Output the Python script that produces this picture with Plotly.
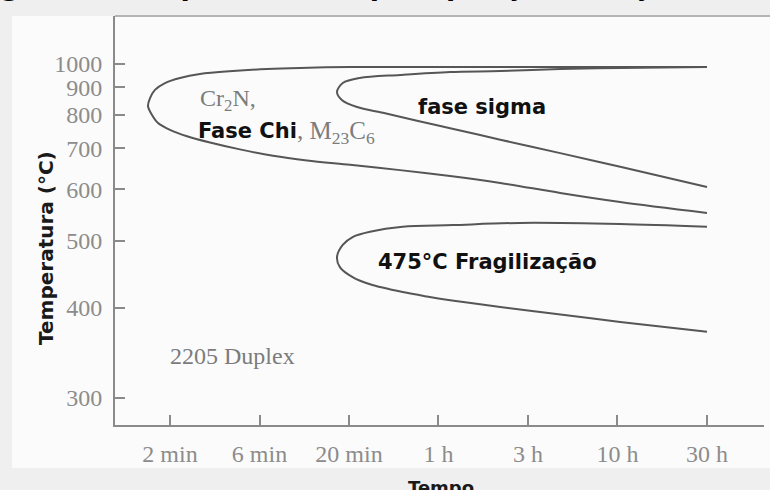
import numpy as np
import plotly.graph_objects as go

# Time axis: one unit per labelled step (roughly a factor of 3 in time)
time_labels = ["2 min", "6 min", "20 min", "1 h", "3 h", "10 h", "30 h"]
time_pos = list(range(len(time_labels)))

# Temperature ticks, °C (axis is linear in 1/T absolute)
temp_ticks = [300, 400, 500, 600, 700, 800, 900, 1000]

# Cr2N / chi / M23C6 precipitation curve (upper branch, nose, lower branch)
carb_t = [6.0, 4.25, 2.01, 1.453, 1.084, 0.704, 0.335, 0.112, -0.056, -0.168,
          -0.223, -0.246, -0.201, -0.134, 0.0, 0.19, 0.447, 0.782, 1.151,
          1.531, 2.011, 2.57, 3.13, 3.69, 4.36, 5.03, 6.0]
carb_T = [986, 986, 986, 982, 977, 968, 955, 938, 917, 890,
          859, 830, 800, 774, 753, 734, 716, 697, 680,
          668, 657, 644, 630, 614, 592, 573, 551]

# Sigma phase curve
sigma_t = [6.0, 5.03, 4.36, 3.69, 3.13, 2.57, 2.12, 1.93, 1.866, 1.92,
           2.09, 2.38, 2.76, 3.13, 3.69, 4.36, 5.03, 6.0]
sigma_T = [986, 982, 977, 968, 964, 951, 938, 917, 882, 852,
           827, 807, 781, 758, 724, 687, 652, 605]

# 475 °C embrittlement curve
embr_t = [6.0, 5.03, 3.91, 3.16, 2.60, 2.235, 2.045, 1.93, 1.866, 1.90,
          2.045, 2.235, 2.60, 2.87, 3.13, 3.69, 4.25, 5.03, 6.0]
embr_T = [525, 530, 532, 528, 525, 516, 507, 493, 473, 457,
          442, 432, 421, 415, 410, 401, 393, 382, 370]


def inv_abs(T):
    """Plotting coordinate: 10^4 / absolute temperature."""
    return 1e4 / (np.asarray(T, dtype=float) + 273.0)


line_style = dict(color="#565656", width=2, shape="spline", smoothing=0.9)

fig = go.Figure()
for tx, ty in [(carb_t, carb_T), (sigma_t, sigma_T), (embr_t, embr_T)]:
    fig.add_trace(go.Scatter(x=tx, y=inv_abs(ty), mode="lines",
                             line=line_style, hoverinfo="skip",
                             showlegend=False))

serif = "Liberation Serif, Times New Roman, serif"
sans_bold = "DejaVu Sans, Verdana, sans-serif"
gray_txt = "#7c7c7c"

tick_font = dict(family=serif, size=24, color="#8c8c8c")

fig.update_xaxes(
    range=[-0.6145, 6.637], tickmode="array", tickvals=time_pos,
    ticktext=time_labels, ticks="inside", ticklen=10, tickwidth=1.5,
    tickcolor="#8a8a8a", showline=True, linecolor="#8a8a8a", linewidth=2,
    showgrid=False, zeroline=False, tickfont=tick_font,
    ticklabelstandoff=6,
)
fig.update_yaxes(
    range=[float(inv_abs(275.6)), float(inv_abs(1271))], tickmode="array",
    tickvals=inv_abs(temp_ticks), ticktext=[str(t) for t in temp_ticks],
    ticks="inside", ticklen=10, tickwidth=1.5, tickcolor="#8a8a8a",
    showline=True, linecolor="#8a8a8a", linewidth=2, showgrid=False,
    zeroline=False, tickfont=tick_font, ticklabelstandoff=6,
)

annotations = [
    dict(x=0.313, y=float(inv_abs(852)), text="Cr<sub>2</sub>N,",
         xanchor="left", yanchor="middle",
         font=dict(family=serif, size=24, color=gray_txt)),
    dict(x=0.29, y=float(inv_abs(749)), text="<b>Fase Chi</b>",
         xanchor="left", yanchor="middle",
         font=dict(family=sans_bold, size=21, color="#111111")),
    dict(x=1.40, y=float(inv_abs(745)), text=", M<sub>23</sub>C<sub>6</sub>",
         xanchor="left", yanchor="middle",
         font=dict(family=serif, size=25, color=gray_txt)),
    dict(x=3.486, y=float(inv_abs(827)), text="<b>fase sigma</b>",
         xanchor="center", yanchor="middle",
         font=dict(family=sans_bold, size=21, color="#111111")),
    dict(x=3.553, y=float(inv_abs(465)), text="<b>475°C Fragilização</b>",
         xanchor="center", yanchor="middle",
         font=dict(family=sans_bold, size=21, color="#111111")),
    dict(x=-0.022, y=float(inv_abs(342.5)), text="2205 Duplex",
         xanchor="left", yanchor="middle",
         font=dict(family=serif, size=24, color=gray_txt)),
    # axis titles
    dict(xref="paper", yref="paper", x=-0.1063, y=0.4328,
         text="<b>Temperatura (°C)</b>", textangle=-90,
         xanchor="center", yanchor="middle",
         font=dict(family=sans_bold, size=20, color="#1a1a1a")),
    dict(xref="paper", yref="paper", x=0.502, y=-0.1222,
         text="<b>Tempo</b>", xanchor="center", yanchor="top",
         font=dict(family=sans_bold, size=18, color="#1a1a1a")),
    # figure caption running along the top edge
    dict(xref="paper", yref="paper", x=-0.2219, y=1.0743,
         text="<b>Figura 8: Temperatura de precipitação do aço inoxidável duplex</b>",
         xanchor="left", yanchor="middle",
         font=dict(family=sans_bold, size=27, color="#000000")),
]
for a in annotations:
    a["showarrow"] = False

shapes = [
    # light panel behind the chart
    dict(type="rect", xref="paper", yref="paper", layer="below",
         x0=(12 - 115) / 649, x1=1.01, y0=(425 - 468) / 409, y1=1.0,
         fillcolor="#fbfbfb", line=dict(width=0)),
    # upper frame edge
    dict(type="line", xref="paper", yref="paper", x0=0, x1=1.01, y0=1, y1=1,
         line=dict(color="#b4b4b4", width=2)),
]

fig.update_layout(
    width=770, height=490,
    margin=dict(l=115, r=6, t=16, b=65),
    paper_bgcolor="#efefef", plot_bgcolor="#ffffff",
    annotations=annotations, shapes=shapes, showlegend=False,
)

fig.write_html("out.html")
